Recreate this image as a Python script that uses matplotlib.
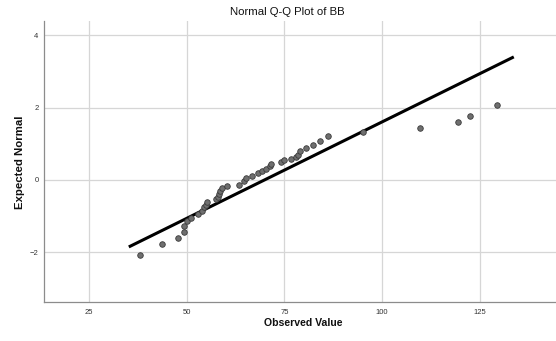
import numpy as np
import matplotlib
matplotlib.use("Agg")
import matplotlib.pyplot as plt

plt.rcParams['font.family'] = ['Liberation Sans', 'DejaVu Sans']

observed = [38.0, 43.7, 47.8, 49.2, 49.4, 50.1, 51.2, 53.0, 53.8, 54.4,
            55.0, 55.2, 57.4, 58.0, 58.3, 58.6, 59.0, 60.2, 63.3, 64.7,
            65.2, 66.8, 68.3, 69.2, 70.2, 71.3, 71.7, 74.2, 74.9, 76.8,
            77.9, 78.6, 79.0, 80.5, 82.2, 84.0, 86.2, 95.0, 109.8, 119.4,
            122.4, 129.3]
expected = [-2.08, -1.78, -1.59, -1.44, -1.28, -1.13, -1.04, -0.93, -0.87, -0.76,
            -0.68, -0.60, -0.53, -0.46, -0.38, -0.30, -0.22, -0.18, -0.13, -0.04,
            0.05, 0.12, 0.19, 0.24, 0.31, 0.38, 0.44, 0.50, 0.55, 0.59,
            0.63, 0.69, 0.79, 0.89, 0.97, 1.07, 1.22, 1.33, 1.44, 1.59,
            1.78, 2.07]

# reference line end points
line_x = [35.2, 133.7]
line_y = [-1.85, 3.40]

x_ticks = [25, 50, 75, 100, 125]
y_ticks = [-2, 0, 2, 4]

W, H = 556, 341
fig = plt.figure(figsize=(W / 100, H / 100), dpi=100)
ax = fig.add_axes([44 / W, 1 - 302.3 / H, (W - 44) / W, (302.3 - 20.7) / H])

ax.set_xlim(13.5, 144.5)
ax.set_ylim(-3.38, 4.40)
ax.set_xticks(x_ticks)
ax.set_yticks(y_ticks)
ax.grid(True, color='#d6d6d6', linewidth=0.9)
ax.set_axisbelow(True)

ax.plot(line_x, line_y, color='black', linewidth=2.2, solid_capstyle='butt', zorder=2)
ax.scatter(observed, expected, s=16, facecolor='#6f6f6f', edgecolor='#3a3a3a',
           linewidths=0.6, zorder=3)

for side in ['top', 'right']:
    ax.spines[side].set_visible(False)
for side in ['left', 'bottom']:
    ax.spines[side].set_color('#8c8c8c')
    ax.spines[side].set_linewidth(0.9)

ax.tick_params(axis='both', length=0, labelsize=5.5, labelcolor='#333333')
ax.tick_params(axis='y', pad=4)
ax.tick_params(axis='x', pad=5)

fig.text(287 / W, 1 - 12 / H, 'Normal Q-Q Plot of BB', ha='center', va='center',
         fontsize=8.2, color='#111111')
fig.text(303 / W, 1 - 323 / H, 'Observed Value', ha='center', va='center',
         fontsize=7.6, fontweight='bold', color='#111111')
fig.text(20 / W, 1 - 162 / H, 'Expected Normal', ha='center', va='center',
         rotation=90, fontsize=8.2, fontweight='bold', color='#111111')

fig.savefig('out.png', dpi=100)
